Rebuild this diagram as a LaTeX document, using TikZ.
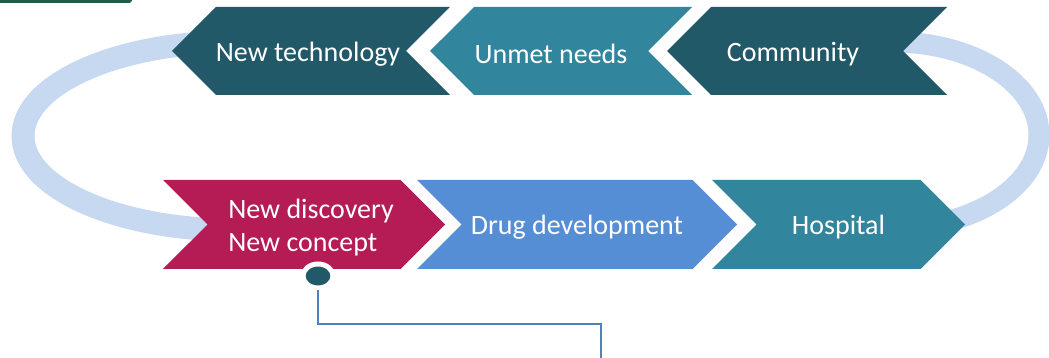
\documentclass[tikz,border=0pt]{standalone}
\usepackage{fontspec}
\setmainfont{Carlito}
\usetikzlibrary{shapes.symbols,shapes.geometric}

\definecolor{darkteal}{HTML}{215968}
\definecolor{midteal}{HTML}{31859C}
\definecolor{crimson}{HTML}{B51C56}
\definecolor{softblue}{HTML}{558ED5}
\definecolor{ringblue}{HTML}{C6D9F1}
\definecolor{linkblue}{HTML}{4F81BD}
\definecolor{bargreen}{HTML}{1E5C4C}

\newcommand\chevfont{\fontsize{28}{33}\selectfont}

\begin{document}
\begin{tikzpicture}[x=1pt, y=1pt,
    chev/.style = {shape=signal, signal pointer angle=90, inner sep=0pt, outer sep=0pt},
    toleft/.style = {chev, signal to=west, signal from=east, minimum height=88pt},
    toright/.style = {chev, signal to=east, signal from=west, minimum height=89pt},
    chevtext/.style = {text=white, font=\chevfont, inner sep=0pt},
    pin/.style = {ellipse, fill=darkteal, draw=white, line width=5pt, minimum width=30pt, minimum height=24pt, inner sep=0pt}]
    \useasboundingbox (0,0) rectangle (1049,358);
    \clip (0,0) rectangle (1049,358);
    % bit of a bar cut off at the top
    \fill[bargreen, rounded corners=3pt] (-10,355) rectangle (132,365);
    % the two arcs behind the chevrons
    \draw[ringblue, line width=23pt] (234,316) arc[start angle=90, end angle=270, x radius=211, y radius=94];
    \draw[ringblue, line width=21pt] (893,130) arc[start angle=-90, end angle=90, x radius=146, y radius=93];
    % top row, going left
    \node[toleft, fill=darkteal, minimum width=278pt](tech) at (311,307){};
    \node[toleft, fill=midteal, minimum width=262pt](needs) at (561,307){};
    \node[toleft, fill=darkteal, minimum width=280pt](comm) at (807,307){};
    % bottom row, going right
    \node[toright, fill=crimson, minimum width=282pt](disc) at (304,133.5){};
    \node[toright, fill=softblue, minimum width=320pt](drug) at (577,133.5){};
    \node[toright, fill=midteal, minimum width=253pt](hosp) at (838.5,133.5){};
    % texts
    \node[chevtext](techtext) at ([xshift=-3pt, yshift=-3pt]tech.center){New technology};
    \node[chevtext](needstext) at ([xshift=-10pt, yshift=-3pt]needs.center){Unmet needs};
    \node[chevtext](commtext) at ([xshift=-14pt, yshift=-3pt]comm.center){Community};
    \node[chevtext, align=left](disctext) at ([xshift=7pt, yshift=-3pt]disc.center){New discovery\\New concept};
    \node[chevtext](drugtext) at ([yshift=-3pt]drug.center){Drug development};
    \node[chevtext](hosptext) at ([yshift=-3pt]hosp.center){Hospital};
    % pin and its line
    \node[pin](dot) at (318,82){};
    \coordinate (bend) at (601,34);
    \coordinate (tail) at (601,0);
    \draw[linkblue, line width=1.3pt] (dot.south) |- (bend) -- (tail);
\end{tikzpicture}
\end{document}
